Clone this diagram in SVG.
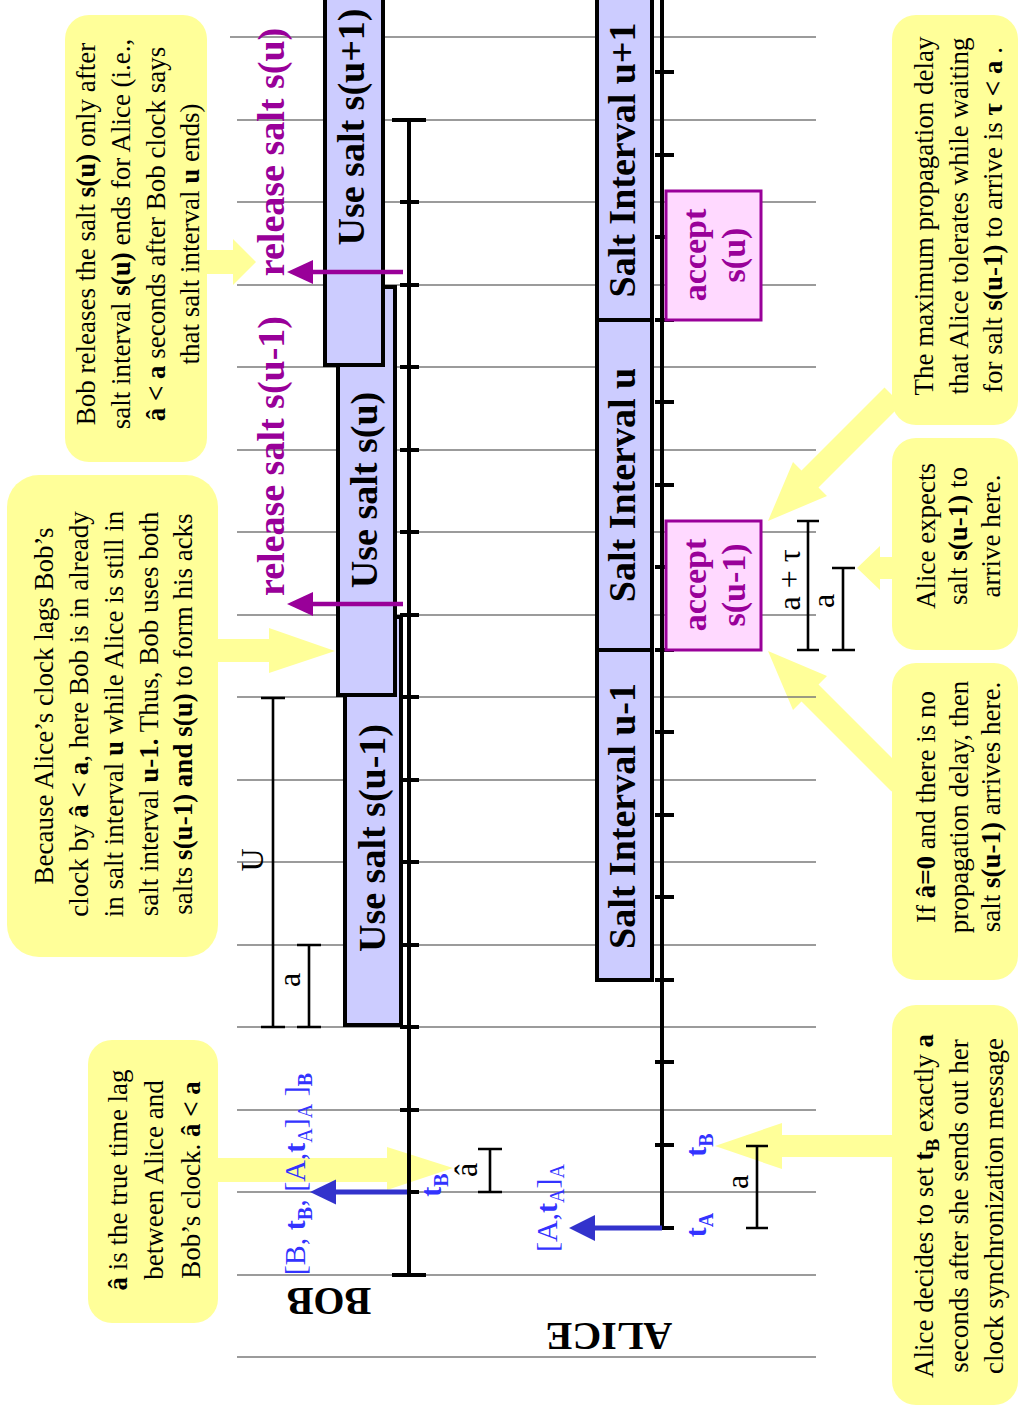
<svg xmlns="http://www.w3.org/2000/svg" width="1018" height="1407" viewBox="0 0 1018 1407">
<defs>
<style>
text{font-family:"Liberation Serif","Times New Roman",serif;text-anchor:middle}
.grid{stroke:#7a7a7a;stroke-width:1.3}
.tl{stroke:#000;stroke-width:4;fill:none}
.tick{stroke:#000;stroke-width:4;fill:none}
.br{stroke:#000;stroke-width:2.6;fill:none}
.bar{fill:#ccccff;stroke:#000;stroke-width:4}
.acc{fill:#ffd9ff;stroke:#990099;stroke-width:3}
.note{fill:#ffff99}
.ya{fill:#ffff99}
.rel{stroke:#990099;stroke-width:4.5}
.relh{fill:#990099}
.msg{stroke:#3333cc;stroke-width:5}
.msgh{fill:#3333cc}
.nt{font-size:27px;fill:#000}
.big{font-size:38px;font-weight:bold;fill:#000}
.pur{font-size:38px;font-weight:bold;fill:#990099}
.accT{font-size:34px;font-weight:bold;fill:#990099}
.blue{font-size:30px;fill:#3333ff}
.lab{font-size:32px;fill:#000}
.b{font-weight:bold}
.who{font-size:40px;font-weight:bold;fill:#000}
</style>
</defs>
<rect width="1018" height="1407" fill="#fff"/>

<g id="callouts">
<polygon class="ya" points="205,250 233,250 233,239 256,262 233,285 233,274 205,274"/>
<polygon class="ya" points="215,639 269,639 269,628 335,651 269,673 269,662 215,662"/>
<polygon class="ya" points="215,1158 387,1158 387,1147 453,1168 387,1190 387,1182 215,1182"/>
<polygon class="ya" points="895,1135 782,1135 782,1123 715,1146 782,1169 782,1157 895,1157"/>
<polygon class="ya" points="895,557 880,557 880,546 857,568 880,590 880,579 895,579"/>
<polygon class="ya" points="768,521 793,462 801.5,470.5 884.5,387.5 901.5,404.5 818.5,487.5 827,496"/>
<polygon class="ya" points="768,651 827,676 818.5,684.5 908.5,774.5 891.5,791.5 801.5,701.5 793,710"/>
</g>

<g id="grid">
<line class="grid" x1="230" y1="37" x2="816" y2="37"/>
<line class="grid" x1="237" y1="120" x2="816" y2="120"/>
<line class="grid" x1="237" y1="202" x2="816" y2="202"/>
<line class="grid" x1="237" y1="285" x2="816" y2="285"/>
<line class="grid" x1="237" y1="367" x2="816" y2="367"/>
<line class="grid" x1="237" y1="450" x2="816" y2="450"/>
<line class="grid" x1="237" y1="532" x2="816" y2="532"/>
<line class="grid" x1="237" y1="615" x2="816" y2="615"/>
<line class="grid" x1="237" y1="697" x2="816" y2="697"/>
<line class="grid" x1="237" y1="780" x2="816" y2="780"/>
<line class="grid" x1="237" y1="862" x2="816" y2="862"/>
<line class="grid" x1="237" y1="945" x2="816" y2="945"/>
<line class="grid" x1="237" y1="1027" x2="816" y2="1027"/>
<line class="grid" x1="237" y1="1110" x2="816" y2="1110"/>
<line class="grid" x1="237" y1="1192" x2="816" y2="1192"/>
<line class="grid" x1="237" y1="1275" x2="816" y2="1275"/>
<line class="grid" x1="237" y1="1357" x2="816" y2="1357"/>
</g>

<g id="notes">
<g id="note-bob-release">
<rect class="note" x="65" y="15" width="142" height="447" rx="24"/>
<text class="nt" transform="translate(95,234) rotate(-90)">Bob releases the salt <tspan class="b">s(u)</tspan> only after</text>
<text class="nt" transform="translate(130,234) rotate(-90)">salt interval <tspan class="b">s(u)</tspan> ends for Alice (i.e.,</text>
<text class="nt" transform="translate(165,234) rotate(-90)"><tspan class="b">â &lt; a</tspan> seconds after Bob clock says</text>
<text class="nt" transform="translate(199,234) rotate(-90)">that salt interval <tspan class="b">u</tspan> ends)</text>
</g>
<g id="note-clock-lag">
<rect class="note" x="7" y="475" width="211" height="482" rx="32"/>
<text class="nt" transform="translate(53,706) rotate(-90)">Because Alice’s clock lags Bob’s</text>
<text class="nt" transform="translate(88,714) rotate(-90)">clock by <tspan class="b">â &lt; a</tspan>, here Bob is in already</text>
<text class="nt" transform="translate(123,714) rotate(-90)">in salt interval <tspan class="b">u</tspan>  while Alice is still in</text>
<text class="nt" transform="translate(158,714) rotate(-90)">salt interval <tspan class="b">u-1.</tspan> Thus, Bob uses both</text>
<text class="nt" transform="translate(192,714) rotate(-90)">salts <tspan class="b">s(u-1) and s(u)</tspan> to form his acks</text>
</g>
<g id="note-true-lag">
<rect class="note" x="88" y="1040" width="130" height="283" rx="24"/>
<text class="nt" transform="translate(127,1180) rotate(-90)"><tspan class="b">â</tspan> is the true time lag</text>
<text class="nt" transform="translate(163,1180) rotate(-90)">between Alice and</text>
<text class="nt" transform="translate(200,1180) rotate(-90)">Bob’s clock. <tspan class="b">â &lt; a</tspan></text>
</g>
<g id="note-max-delay">
<rect class="note" x="892" y="15" width="126" height="410" rx="24"/>
<text class="nt" transform="translate(933,216) rotate(-90)">The maximum propagation delay</text>
<text class="nt" transform="translate(968,216) rotate(-90)">that Alice tolerates while waiting</text>
<text class="nt" transform="translate(1002,220) rotate(-90)">for salt <tspan class="b">s(u-1)</tspan> to arrive is <tspan class="b">τ &lt; a</tspan> .</text>
</g>
<g id="note-expects">
<rect class="note" x="892" y="438" width="126" height="212" rx="24"/>
<text class="nt" transform="translate(935,536) rotate(-90)">Alice expects</text>
<text class="nt" transform="translate(967,536) rotate(-90)">salt <tspan class="b">s(u-1)</tspan> to</text>
<text class="nt" transform="translate(1000,536) rotate(-90)">arrive here.</text>
</g>
<g id="note-no-delay">
<rect class="note" x="892" y="663" width="126" height="317" rx="24"/>
<text class="nt" transform="translate(935,807) rotate(-90)">If <tspan class="b">â=0</tspan> and there is no</text>
<text class="nt" transform="translate(968,807) rotate(-90)">propagation delay, then</text>
<text class="nt" transform="translate(1000,807) rotate(-90)">salt <tspan class="b">s(u-1)</tspan> arrives here.</text>
</g>
<g id="note-alice-decides">
<rect class="note" x="892" y="1005" width="126" height="400" rx="24"/>
<text class="nt" transform="translate(933,1206) rotate(-90)">Alice decides to set <tspan class="b">t</tspan><tspan class="b" dy="6" font-size="19">B</tspan><tspan dy="-6"> exactly </tspan><tspan class="b">a</tspan></text>
<text class="nt" transform="translate(968,1206) rotate(-90)">seconds after she sends out her</text>
<text class="nt" transform="translate(1003,1206) rotate(-90)">clock synchronization message</text>
</g>
</g>

<g id="bob-bars">
<g id="bar-su-1">
<rect class="bar" x="345" y="617" width="56" height="408"/>
<text class="big" transform="translate(385,838) rotate(-90)">Use salt s(u-1)</text>
</g>
<g id="bar-su">
<rect class="bar" x="338" y="287" width="57" height="408"/>
<text class="big" transform="translate(377,490) rotate(-90)">Use salt s(u)</text>
</g>
<g id="bar-su+1">
<rect class="bar" x="325" y="-10" width="58" height="375"/>
<text class="big" transform="translate(364,127) rotate(-90)">Use salt s(u+1)</text>
</g>
</g>

<g id="alice-intervals">
<g id="interval-u+1">
<rect class="bar" x="597" y="-10" width="55" height="330"/>
<text class="big" transform="translate(635,160) rotate(-90)">Salt Interval u+1</text>
</g>
<g id="interval-u">
<rect class="bar" x="597" y="320" width="55" height="330"/>
<text class="big" transform="translate(635,485) rotate(-90)">Salt Interval u</text>
</g>
<g id="interval-u-1">
<rect class="bar" x="597" y="650" width="55" height="330"/>
<text class="big" transform="translate(635,816) rotate(-90)">Salt Interval u-1</text>
</g>
</g>

<g id="bob-timeline">
<path class="tl" d="M409 120 V1275"/>
<path class="tick" d="M392 120 H426 M392 1275 H426 M400 202 H419 M400 285 H419 M400 367 H419 M400 450 H419 M400 532 H419 M400 615 H419 M400 697 H419 M400 780 H419 M400 862 H419 M400 945 H419 M400 1027 H419 M400 1110 H419 M400 1192 H419"/>
</g>

<g id="alice-timeline">
<path class="tl" d="M662 -5 V1228"/>
<path class="tick" d="M655 72 H674 M655 155 H674 M655 237 H674 M655 320 H674 M655 402 H674 M655 485 H674 M655 567 H674 M655 650 H674 M655 732 H674 M655 815 H674 M655 897 H674 M655 980 H674 M655 1062 H674 M655 1145 H674 M660 1228 H674"/>
</g>

<g id="accept-boxes">
<g id="accept-su">
<rect class="acc" x="666" y="191" width="95" height="129"/>
<text class="accT" transform="translate(706,255) rotate(-90)">accept</text>
<text class="accT" transform="translate(745,255) rotate(-90)">s(u)</text>
</g>
<g id="accept-su-1">
<rect class="acc" x="666" y="521" width="95" height="129"/>
<text class="accT" transform="translate(706,585) rotate(-90)">accept</text>
<text class="accT" transform="translate(745,585) rotate(-90)">s(u-1)</text>
</g>
</g>

<g id="connectors">
<line class="rel" x1="403" y1="272" x2="310" y2="272"/>
<polygon class="relh" points="287,272 313,260 313,284"/>
<line class="rel" x1="403" y1="604" x2="310" y2="604"/>
<polygon class="relh" points="287,604 313,592 313,616"/>
<line class="msg" x1="407" y1="1192" x2="333" y2="1192"/>
<polygon class="msgh" points="310,1192 336,1179.5 336,1204.5"/>
<line class="msg" x1="662" y1="1228" x2="592" y2="1228"/>
<polygon class="msgh" points="569,1228 595,1215 595,1241"/>
</g>

<g id="brackets">
<path class="br" d="M273 698 V1027 M261 698 H285 M261 1027 H285"/>
<path class="br" d="M309 945 V1027 M297 945 H321 M297 1027 H321"/>
<path class="br" d="M490 1149 V1192 M478 1149 H502 M478 1192 H502"/>
<path class="br" d="M757 1146 V1228 M746 1146 H768 M746 1228 H768"/>
<path class="br" d="M808 521 V650 M797 521 H819 M797 650 H819"/>
<path class="br" d="M843 568 V650 M832 568 H855 M832 650 H855"/>
<text class="lab" font-size="36" transform="translate(263,860) rotate(-90)">U</text>
<text class="lab" transform="translate(300,980) rotate(-90)">a</text>
<text class="lab" transform="translate(477,1170) rotate(-90)">â</text>
<text class="lab" transform="translate(748,1182) rotate(-90)">a</text>
<text class="lab" font-size="30" transform="translate(800,580) rotate(-90)">a + τ</text>
<text class="lab" transform="translate(834,601) rotate(-90)">a</text>
</g>

<g id="labels">
<text class="pur" transform="translate(284,152) rotate(-90)">release salt s(u)</text>
<text class="pur" transform="translate(284,456) rotate(-90)">release salt s(u-1)</text>
<text class="blue" transform="translate(305,1174) rotate(-90)">[B, <tspan class="b">t</tspan><tspan class="b" dy="7" font-size="20">B</tspan><tspan dy="-7">, [A,</tspan><tspan class="b">t</tspan><tspan dy="7" font-size="20">A</tspan><tspan dy="-7">]</tspan><tspan dy="7" font-size="20">A</tspan><tspan dy="-7"> ]</tspan><tspan class="b" dy="7" font-size="20">B</tspan></text>
<text class="blue" transform="translate(557,1208) rotate(-90)">[A,<tspan class="b">t</tspan><tspan dy="7" font-size="20">A</tspan><tspan dy="-7">]</tspan><tspan dy="7" font-size="20">A</tspan></text>
<text class="blue b" transform="translate(441,1185) rotate(-90)">t<tspan dy="7" font-size="20">B</tspan></text>
<text class="blue b" transform="translate(706,1145) rotate(-90)">t<tspan dy="7" font-size="20">B</tspan></text>
<text class="blue b" transform="translate(706,1225) rotate(-90)">t<tspan dy="7" font-size="20">A</tspan></text>
<text class="who" transform="translate(329,1288) rotate(180)">BOB</text>
<text class="who" transform="translate(609,1323) rotate(180)">ALICE</text>
</g>
</svg>
